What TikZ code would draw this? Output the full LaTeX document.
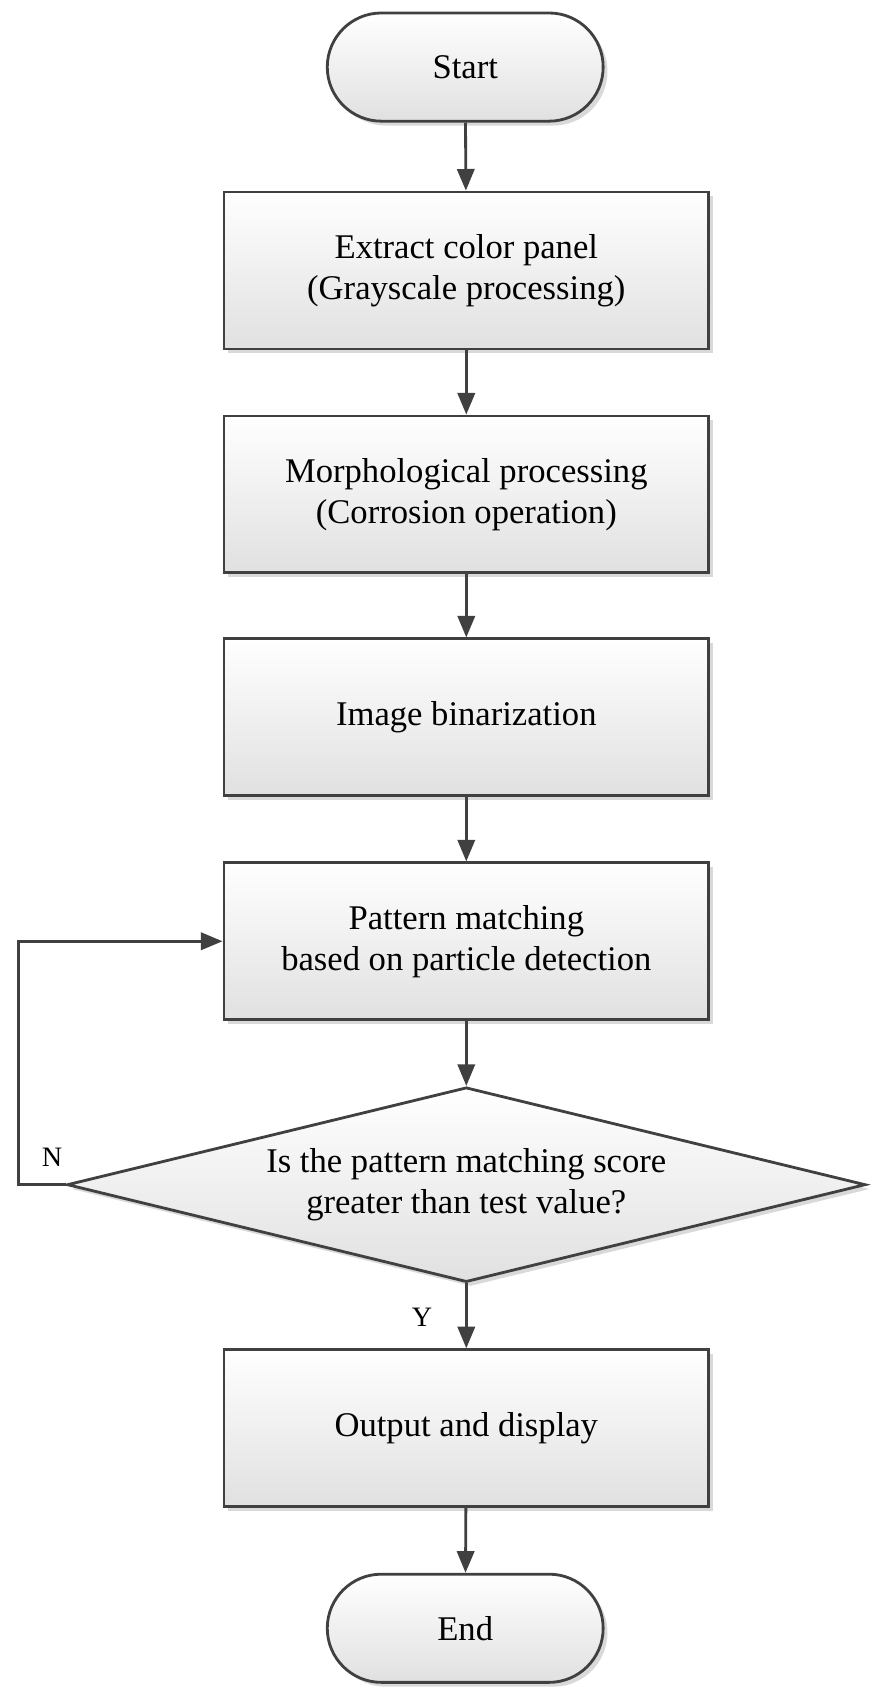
\documentclass[tikz,border=0pt]{standalone}
\usepackage{fontspec}
\setmainfont{Liberation Serif}
\usetikzlibrary{shapes.geometric,shapes.misc,arrows.meta,shadows}
\begin{document}
\begin{tikzpicture}[x=1pt,y=-1pt,
  base/.style={draw=black!75,line width=2.6pt,top color=white,bottom color=black!12,
     drop shadow={shadow xshift=4pt,shadow yshift=-4pt,fill=black!25,opacity=0.6},
     font=\fontsize{32}{38}\selectfont,align=center,inner sep=0pt},
  box/.style={base,rectangle,minimum width=448pt,minimum height=145pt},
  term/.style={base,rounded rectangle,minimum width=255pt,minimum height=100pt},
  dia/.style={base,diamond,aspect=4.1,minimum width=738pt,minimum height=180pt},
  arr/.style={draw=black!75,line width=2.6pt,-{Triangle[length=20pt,width=16pt]}},
  lab/.style={font=\fontsize{26}{30}\selectfont}]
\useasboundingbox (0,0) rectangle (810,1563);
\node[term] (s) at (430,62) {Start};
\node[box] (b1) at (431,250) {Extract color panel\\(Grayscale processing)};
\node[box] (b2) at (431,457) {Morphological processing\\(Corrosion operation)};
\node[box] (b3) at (431,663) {Image binarization};
\node[box] (b4) at (431,870) {Pattern matching\\based on particle detection};
\node[dia] (d) at (431,1095) {Is the pattern matching score\\greater than test value?};
\node[box] (b5) at (431,1320) {Output and display};
\node[term] (e) at (430,1505) {End};
\draw[arr] (s) -- (b1);
\draw[arr] (b1) -- (b2);
\draw[arr] (b2) -- (b3);
\draw[arr] (b3) -- (b4);
\draw[arr] (b4) -- (d);
\draw[arr] (d) -- (b5);
\draw[arr] (b5) -- (e);
\coordinate (c1) at (17,1095);
\coordinate (c2) at (17,870);
\draw[arr] (d.west) -- (c1) -- (c2) -- (b4.west);
\node[lab] (n) at (48,1070) {N};
\node[lab] (y) at (390,1218) {Y};
\end{tikzpicture}
\end{document}
